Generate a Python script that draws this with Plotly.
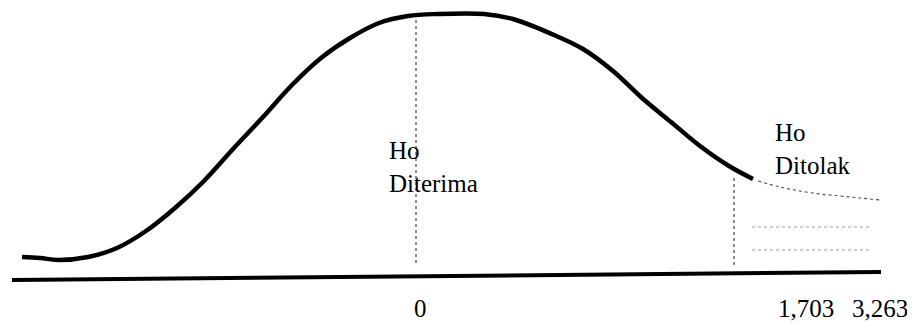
import plotly.graph_objects as go

curve_x = [22, 40, 58, 88, 117, 146, 175, 204, 233, 263, 292, 321, 350, 379, 408,
           438, 484, 513, 554, 583, 613, 642, 671, 700, 729, 753]
curve_y = [257, 258, 260, 257, 248, 231, 208, 181, 149, 117, 85, 58, 38, 23, 16,
           14, 14, 19, 35, 49, 71, 98, 122, 146, 166, 179]

# Dotted tail of the curve (rejection region)
tail_x = [758, 780, 800, 820, 840, 860, 880]
tail_y = [181, 187, 191, 194, 196, 198, 200]

baseline_x = [12, 881]
baseline_y = [280, 272]

tick_pos = [420, 806, 880]
tick_labels = ["0", "1,703", "3,263"]

accept_x = 416
reject_x = 734

labels = ["Ho<br>Diterima", "Ho<br>Ditolak"]
label_x = [387, 773]
label_y = [135, 117]

font = "Liberation Serif, Times New Roman, serif"

fig = go.Figure()

# Main curve
fig.add_trace(go.Scatter(x=curve_x, y=curve_y, mode="lines",
                         line=dict(color="black", width=4.5, shape="spline"),
                         hoverinfo="skip"))
# Dotted tail
fig.add_trace(go.Scatter(x=tail_x, y=tail_y, mode="lines",
                         line=dict(color="#555", width=1.2, dash="dot", shape="spline"),
                         hoverinfo="skip"))
# Faint dotted shading rows in rejection region
for yy in [227, 250]:
    fig.add_trace(go.Scatter(x=[752, 870], y=[yy, yy], mode="lines",
                             line=dict(color="#999", width=1, dash="dot"),
                             hoverinfo="skip"))
# Baseline
fig.add_trace(go.Scatter(x=baseline_x, y=baseline_y, mode="lines",
                         line=dict(color="black", width=4), hoverinfo="skip"))
# Vertical dotted lines
fig.add_trace(go.Scatter(x=[accept_x, accept_x], y=[20, 265], mode="lines",
                         line=dict(color="#444", width=1.2, dash="dot"), hoverinfo="skip"))
fig.add_trace(go.Scatter(x=[reject_x, reject_x], y=[178, 265], mode="lines",
                         line=dict(color="#444", width=1.2, dash="dot"), hoverinfo="skip"))

for t, lx, ly in zip(labels, label_x, label_y):
    fig.add_annotation(x=lx, y=ly, text=t, showarrow=False, xanchor="left", yanchor="top",
                       align="left", font=dict(family=font, size=25, color="black"))

for tv, tt in zip(tick_pos, tick_labels):
    fig.add_annotation(x=tv, y=308, text=tt, showarrow=False, xanchor="center", yanchor="middle",
                       font=dict(family=font, size=25, color="black"))

# Page body has an 8px margin, so axis ranges are offset by 8 to keep drawing units = screen pixels
fig.update_layout(
    width=915, height=325,
    margin=dict(l=0, r=0, t=0, b=0),
    paper_bgcolor="white", plot_bgcolor="white",
    showlegend=False,
    xaxis=dict(range=[8, 923], showgrid=False, zeroline=False, showline=False,
               showticklabels=False, ticks="", fixedrange=True),
    yaxis=dict(range=[333, 8], showgrid=False, zeroline=False, showline=False,
               showticklabels=False, fixedrange=True),
)

fig.write_html("out.html")
